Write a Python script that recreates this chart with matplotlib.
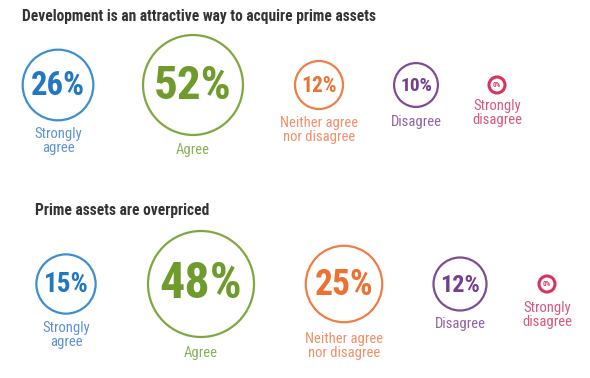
import matplotlib
matplotlib.use("Agg")
import matplotlib.pyplot as plt
from matplotlib.patches import Circle
from matplotlib import font_manager as fm

names = {f.name for f in fm.fontManager.ttflist}
FONT = next((n for n in ["Roboto Condensed", "Archivo Narrow", "Liberation Sans Narrow",
                         "Barlow Semi Condensed", "Liberation Sans"] if n in names), "DejaVu Sans")
plt.rcParams['font.family'] = [FONT, 'DejaVu Sans']

# ---- data ----
titles = ["Development is an attractive way to acquire prime assets",
          "Prime assets are overpriced"]
categories = ["Strongly\nagree", "Agree", "Neither agree\nnor disagree",
              "Disagree", "Strongly\ndisagree"]
values_dev = [26, 52, 12, 10, 0]
values_prime = [15, 48, 25, 12, 0]

ring_colors = ["#3d8fd1", "#7ea83f", "#ef7f45", "#7d4c95", "#d8325e"]
num_colors = ["#2277c2", "#6e9b2c", "#ec7232", "#753f90", "#d8325e"]
label_colors = ["#5f92d2", "#8bb05a", "#f1906a", "#8f63a8", "#d9587c"]

# ---- layout (pixels) ----
W, H = 590, 378
fig = plt.figure(figsize=(W / 100, H / 100), dpi=100)
ax = fig.add_axes([0, 0, 1, 1])
ax.set_xlim(0, W)
ax.set_ylim(H, 0)
ax.axis("off")

rows = [
    dict(title_xy=(22, 17), cy=85, scale=6.93, xs=[58, 193, 319, 416, 497],
         label_top=[127, 143, 116, 115, 99], values=values_dev),
    dict(title_xy=(35, 210), cy=284, scale=7.65, xs=[66, 201, 344, 460, 547],
         label_top=[321, 346, 332, 317, 301], values=values_prime),
]
PX = 72 / 100  # pixel -> points
CAP = 0.71

for ri, row in enumerate(rows):
    ax.text(row["title_xy"][0], row["title_xy"][1], titles[ri], fontsize=11.2,
            fontweight="bold", color="#333333", ha="left", va="center")
    for i, v in enumerate(row["values"]):
        x = row["xs"][i]
        r = max(row["scale"] * v ** 0.5, 8)
        small = v == 0
        ax.add_patch(Circle((x, row["cy"]), r, fill=False, ec=ring_colors[i],
                            lw=2.2 if small else 1.6))
        fs = 5 if small else (0.7 * r - 1.5) / CAP * PX
        ax.text(x, row["cy"] + (0.3 if small else 1), f"{v}%", fontsize=fs,
                fontweight="bold", color=num_colors[i], ha="center", va="center")
        ax.text(x, row["label_top"][i], categories[i], fontsize=10.5,
                color=label_colors[i], ha="center", va="top", linespacing=1.0)

fig.savefig("out.png", dpi=100)
